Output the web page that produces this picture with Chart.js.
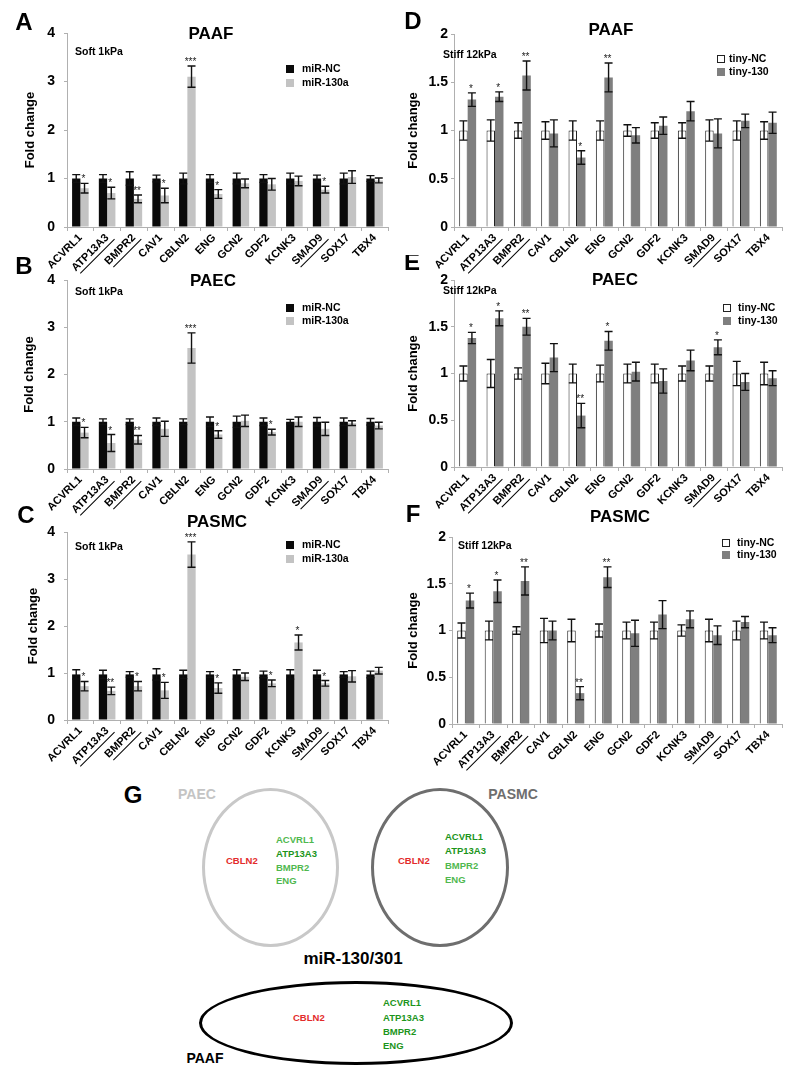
<!DOCTYPE html>
<html>
<head>
<meta charset="utf-8">
<script src="https://cdn.jsdelivr.net/npm/chart.js@4.4.0/dist/chart.umd.min.js"></script>
<style>
  body { margin: 0; background: #fff; }
  #fig { position: relative; width: 796px; height: 1079px; overflow: hidden; font-family: Arial, "Liberation Sans", sans-serif; }
  #fig canvas { position: absolute; }
  .t { position: absolute; font-weight: bold; white-space: nowrap; line-height: 1; }
  .c { transform: translate(-50%, -50%); }
  .l { transform: translateY(-50%); }
  .ring { position: absolute; border-radius: 50%; box-sizing: border-box; }
</style>
</head>
<body>
<div id="fig">
  <!-- panel G -->
  <div class="t c" style="left:133px;top:795px;font-size:24px;">G</div>
  <div class="t c" style="left:197px;top:794px;font-size:14px;color:#c4c4c4;">PAEC</div>
  <div class="t c" style="left:513px;top:794px;font-size:14px;color:#6e6e6e;">PASMC</div>
  <div class="ring" style="left:202px;top:788px;width:137px;height:159px;border:3px solid #c8c8c8;"></div>
  <div class="ring" style="left:371px;top:788px;width:138px;height:159px;border:3px solid #6e6e6e;"></div>
  <div class="t c" style="left:353px;top:958px;font-size:17px;">miR-130/301</div>
  <div class="ring" style="left:199px;top:981px;width:314px;height:84px;border:3px solid #000;"></div>
  <div class="t c" style="left:205px;top:1058px;font-size:14px;">PAAF</div>

  <div class="t l" style="left:226px;top:861px;font-size:9.5px;color:#e32b2b;">CBLN2</div>
  <div class="t l" style="left:276px;top:840px;font-size:9.5px;color:#4fb84f;">ACVRL1</div>
  <div class="t l" style="left:276px;top:854px;font-size:9.5px;color:#1c951c;">ATP13A3</div>
  <div class="t l" style="left:276px;top:868px;font-size:9.5px;color:#4fb84f;">BMPR2</div>
  <div class="t l" style="left:276px;top:881px;font-size:9.5px;color:#4fb84f;">ENG</div>

  <div class="t l" style="left:398px;top:861px;font-size:9.5px;color:#e32b2b;">CBLN2</div>
  <div class="t l" style="left:445px;top:837px;font-size:9.5px;color:#1c951c;">ACVRL1</div>
  <div class="t l" style="left:445px;top:851px;font-size:9.5px;color:#1c951c;">ATP13A3</div>
  <div class="t l" style="left:445px;top:866px;font-size:9.5px;color:#4fb84f;">BMPR2</div>
  <div class="t l" style="left:445px;top:880px;font-size:9.5px;color:#4fb84f;">ENG</div>

  <div class="t l" style="left:293px;top:1018px;font-size:9.5px;color:#e32b2b;">CBLN2</div>
  <div class="t l" style="left:383px;top:1003px;font-size:9.5px;color:#1c951c;">ACVRL1</div>
  <div class="t l" style="left:383px;top:1018px;font-size:9.5px;color:#1c951c;">ATP13A3</div>
  <div class="t l" style="left:383px;top:1032px;font-size:9.5px;color:#1c951c;">BMPR2</div>
  <div class="t l" style="left:383px;top:1046px;font-size:9.5px;color:#1c951c;">ENG</div>
</div>
<script>
const FONT = 'Arial, "Liberation Sans", sans-serif';

const genes = ['ACVRL1', 'ATP13A3', 'BMPR2', 'CAV1', 'CBLN2', 'ENG', 'GCN2', 'GDF2', 'KCNK3', 'SMAD9', 'SOX17', 'TBX4'];
const underlinedGenes = ['ATP13A3', 'BMPR2', 'SMAD9'];
const softTicks = [0, 1, 2, 3, 4];
const stiffTicks = [0, 0.5, 1, 1.5, 2];

// A - PAAF soft
const paafSoftNC = [1, 1, 1, 1, 1, 1, 1, 1, 1, 1, 1, 1];
const paafSoftNCErr = [0.08, 0.08, 0.14, 0.07, 0.11, 0.08, 0.11, 0.08, 0.11, 0.07, 0.11, 0.06];
const paafSoftMiR = [0.8, 0.7, 0.58, 0.65, 3.1, 0.68, 0.9, 0.88, 0.95, 0.77, 1.03, 0.96];
const paafSoftMiRErr = [0.1, 0.12, 0.08, 0.15, 0.22, 0.09, 0.09, 0.12, 0.1, 0.07, 0.13, 0.05];
const paafSoftSig = ['*', '*', '**', '*', '***', '*', '', '', '', '*', '', ''];

// B - PAEC soft
const paecSoftNC = [1, 1, 1, 1, 1, 1, 1, 1, 1, 1, 1, 1];
const paecSoftNCErr = [0.08, 0.06, 0.06, 0.08, 0.06, 0.1, 0.12, 0.08, 0.05, 0.09, 0.08, 0.07];
const paecSoftMiR = [0.77, 0.55, 0.62, 0.85, 2.56, 0.73, 1.02, 0.78, 1.0, 0.85, 0.97, 0.92];
const paecSoftMiRErr = [0.11, 0.18, 0.09, 0.16, 0.32, 0.08, 0.12, 0.06, 0.1, 0.14, 0.05, 0.07];
const paecSoftSig = ['*', '*', '**', '', '***', '*', '', '*', '', '', '', ''];

// C - PASMC soft
const pasmcSoftNC = [0.97, 0.97, 0.97, 0.97, 0.97, 0.97, 0.97, 0.97, 0.97, 0.97, 0.97, 0.97];
const pasmcSoftNCErr = [0.1, 0.09, 0.06, 0.12, 0.09, 0.06, 0.1, 0.07, 0.1, 0.09, 0.06, 0.07];
const pasmcSoftMiR = [0.72, 0.62, 0.72, 0.63, 3.52, 0.68, 0.92, 0.78, 1.65, 0.78, 0.93, 1.05];
const pasmcSoftMiRErr = [0.1, 0.08, 0.1, 0.17, 0.27, 0.11, 0.08, 0.07, 0.16, 0.06, 0.12, 0.07];
const pasmcSoftSig = ['*', '**', '*', '*', '***', '*', '', '*', '*', '*', '', ''];

// D - PAAF stiff
const paafStiffNC = [1, 1, 1, 1, 1, 1, 1, 1, 1, 1, 1, 1];
const paafStiffNCErr = [0.1, 0.11, 0.08, 0.09, 0.1, 0.1, 0.06, 0.08, 0.08, 0.11, 0.1, 0.09];
const paafStiffTiny = [1.32, 1.35, 1.57, 0.97, 0.72, 1.55, 0.95, 1.05, 1.2, 0.97, 1.1, 1.08];
const paafStiffTinyErr = [0.07, 0.05, 0.15, 0.14, 0.07, 0.15, 0.08, 0.09, 0.1, 0.15, 0.07, 0.11];
const paafStiffSig = ['*', '*', '**', '', '*', '**', '', '', '', '', '', ''];

// E - PAEC stiff
const paecStiffNC = [1, 1, 1, 1, 1, 1, 1, 1, 1, 1, 1, 1];
const paecStiffNCErr = [0.08, 0.15, 0.06, 0.11, 0.1, 0.09, 0.1, 0.1, 0.08, 0.08, 0.13, 0.12];
const paecStiffTiny = [1.38, 1.59, 1.5, 1.17, 0.55, 1.35, 1.02, 0.92, 1.14, 1.28, 0.91, 0.95];
const paecStiffTinyErr = [0.06, 0.08, 0.09, 0.15, 0.13, 0.1, 0.1, 0.13, 0.11, 0.08, 0.09, 0.08];
const paecStiffSig = ['*', '*', '**', '', '**', '*', '', '', '', '*', '', ''];

// F - PASMC stiff
const pasmcStiffNC = [1, 1, 1, 1, 1, 1, 1, 1, 1, 1, 1, 1];
const pasmcStiffNCErr = [0.08, 0.1, 0.04, 0.13, 0.12, 0.07, 0.09, 0.09, 0.06, 0.12, 0.1, 0.09];
const pasmcStiffTiny = [1.32, 1.42, 1.53, 1.0, 0.33, 1.57, 0.97, 1.17, 1.12, 0.95, 1.09, 0.95];
const pasmcStiffTinyErr = [0.08, 0.12, 0.15, 0.1, 0.07, 0.11, 0.14, 0.15, 0.09, 0.1, 0.06, 0.08];
const pasmcStiffSig = ['*', '*', '**', '', '**', '**', '', '', '', '', '', ''];

const softNames = ['miR-NC', 'miR-130a'];
const stiffNames = ['tiny-NC', 'tiny-130'];

function makePanel(p) {
  const canvas = document.createElement('canvas');
  canvas.width = p.w;
  canvas.height = p.h;
  canvas.style.left = p.ox + 'px';
  canvas.style.top = p.oy + 'px';
  document.getElementById('fig').appendChild(canvas);

  const stiff = p.kind === 'stiff';
  const ticks = stiff ? stiffTicks : softTicks;

  // error bars, stars, titles, legend and gene labels
  const decor = {
    id: 'decor' + p.letter,
    afterDatasetsDraw(chart) {
      const ctx = chart.ctx;
      const y = chart.scales.y;
      ctx.save();
      ctx.strokeStyle = '#111';
      ctx.lineWidth = 1.4;
      chart.data.datasets.forEach((ds, di) => {
        chart.getDatasetMeta(di).data.forEach((bar, i) => {
          const v = ds.data[i], e = ds.errors[i];
          const yt = y.getPixelForValue(v + e), yb = y.getPixelForValue(v - e);
          ctx.beginPath();
          ctx.moveTo(bar.x, yt); ctx.lineTo(bar.x, yb);
          ctx.moveTo(bar.x - 4, yt); ctx.lineTo(bar.x + 4, yt);
          ctx.moveTo(bar.x - 4, yb); ctx.lineTo(bar.x + 4, yb);
          ctx.stroke();
          if (ds.marks && ds.marks[i]) {
            ctx.fillStyle = '#222';
            ctx.font = '10px ' + FONT;
            ctx.textAlign = 'center';
            ctx.textBaseline = 'alphabetic';
            ctx.fillText(ds.marks[i], bar.x - 1, yt - 1);
          }
        });
      });
      ctx.restore();
    },
    afterDraw(chart) {
      const ctx = chart.ctx;
      const a = chart.chartArea;
      const ox = p.ox, oy = p.oy;
      ctx.save();
      ctx.fillStyle = '#000';
      ctx.textBaseline = 'middle';
      ctx.textAlign = 'center';
      ctx.font = 'bold 24px ' + FONT;
      ctx.fillText(p.letter, p.letterPos[0] - ox, p.letterPos[1] - oy);
      ctx.font = 'bold 17px ' + FONT;
      ctx.fillText(p.title, p.titlePos[0] - ox, p.titlePos[1] - oy);
      ctx.textAlign = 'left';
      ctx.font = 'bold 10.5px ' + FONT;
      ctx.fillText(stiff ? 'Stiff 12kPa' : 'Soft 1kPa', p.condPos[0] - ox, p.condPos[1] - oy);

      // legend
      const names = stiff ? stiffNames : softNames;
      chart.data.datasets.forEach((ds, di) => {
        const ry = p.legendRows[di] - oy;
        const sx = p.legendX[0] - ox;
        ctx.fillStyle = ds.backgroundColor;
        ctx.fillRect(sx, ry - 4, 8, 8);
        if (ds.borderWidth) {
          ctx.strokeStyle = '#222';
          ctx.lineWidth = 1;
          ctx.strokeRect(sx + 0.5, ry - 3.5, 7, 7);
        }
        ctx.fillStyle = '#000';
        ctx.font = 'bold 10.5px ' + FONT;
        ctx.fillText(names[di], p.legendX[1] - ox, ry);
      });

      // y title
      ctx.save();
      ctx.translate(p.yTitleX - ox, (a.top + a.bottom) / 2);
      ctx.rotate(-Math.PI / 2);
      ctx.textAlign = 'center';
      ctx.font = 'bold 13px ' + FONT;
      ctx.fillText('Fold change', 0, 0);
      ctx.restore();

      // gene labels, rotated 45 degrees
      ctx.font = 'bold 11px ' + FONT;
      ctx.strokeStyle = '#000';
      ctx.lineWidth = 1;
      genes.forEach((g, i) => {
        const x = chart.scales.x.getPixelForValue(i);
        ctx.save();
        ctx.translate(x, a.bottom + 9);
        ctx.rotate(-Math.PI / 4);
        ctx.textAlign = 'right';
        ctx.fillText(g, 0, 0);
        if (underlinedGenes.includes(g)) {
          const w = ctx.measureText(g).width;
          ctx.beginPath();
          ctx.moveTo(-w + 2, 7.5);
          ctx.lineTo(3, 7.5);
          ctx.stroke();
        }
        ctx.restore();
      });
      ctx.restore();
    }
  };

  new Chart(canvas, {
    type: 'bar',
    data: {
      labels: genes,
      datasets: [
        {
          label: (stiff ? stiffNames : softNames)[0],
          data: p.ctrl,
          errors: p.ctrlErr,
          backgroundColor: stiff ? '#ffffff' : '#0a0a0a',
          borderColor: '#222',
          borderWidth: stiff ? 1 : 0,
          categoryPercentage: 0.62,
          barPercentage: 1
        },
        {
          label: (stiff ? stiffNames : softNames)[1],
          data: p.treat,
          errors: p.treatErr,
          marks: p.sig,
          backgroundColor: stiff ? '#7f7f7f' : '#c3c3c3',
          borderWidth: 0,
          categoryPercentage: 0.62,
          barPercentage: 1
        }
      ]
    },
    options: {
      responsive: false,
      animation: false,
      layout: { padding: { left: 0, top: p.area[1] - p.oy, right: p.ox + p.w - p.area[2], bottom: 0 } },
      plugins: { legend: { display: false }, tooltip: { enabled: false } },
      scales: {
        x: {
          afterFit: s => { s.height = p.oy + p.h - p.area[3]; },
          ticks: { display: false },
          grid: { drawOnChartArea: false, tickLength: 4, color: '#b0b0b0' },
          border: { color: '#b0b0b0' }
        },
        y: {
          min: 0,
          max: ticks[ticks.length - 1],
          afterFit: s => { s.width = p.area[0] - p.ox; },
          afterBuildTicks: s => { s.ticks = ticks.map(v => ({ value: v })); },
          ticks: {
            color: '#000',
            font: { family: FONT, size: 14, weight: 'bold' },
            padding: p.tickPad,
            callback: v => String(v)
          },
          grid: { drawOnChartArea: false, tickLength: 3, color: '#b0b0b0' },
          border: { color: '#b0b0b0' }
        }
      }
    },
    plugins: [decor]
  });
}

makePanel({ letter: 'A', title: 'PAAF', kind: 'soft', ox: 0, oy: 0, w: 395, h: 285, area: [67, 33, 388, 227],
  ctrl: paafSoftNC, ctrlErr: paafSoftNCErr, treat: paafSoftMiR, treatErr: paafSoftMiRErr, sig: paafSoftSig,
  letterPos: [24, 23], titlePos: [211, 34], condPos: [75, 52], legendX: [286, 302], legendRows: [69, 83], yTitleX: 30, tickPad: 9 });
makePanel({ letter: 'B', title: 'PAEC', kind: 'soft', ox: 0, oy: 255, w: 395, h: 280, area: [67, 280, 388, 469],
  ctrl: paecSoftNC, ctrlErr: paecSoftNCErr, treat: paecSoftMiR, treatErr: paecSoftMiRErr, sig: paecSoftSig,
  letterPos: [24, 267], titlePos: [213, 281], condPos: [75, 292], legendX: [286, 302], legendRows: [308, 321], yTitleX: 29, tickPad: 9 });
makePanel({ letter: 'C', title: 'PASMC', kind: 'soft', ox: 0, oy: 505, w: 395, h: 280, area: [67, 532, 388, 720],
  ctrl: pasmcSoftNC, ctrlErr: pasmcSoftNCErr, treat: pasmcSoftMiR, treatErr: pasmcSoftMiRErr, sig: pasmcSoftSig,
  letterPos: [26, 516], titlePos: [217, 522], condPos: [75, 547], legendX: [286, 302], legendRows: [545, 559], yTitleX: 33, tickPad: 9 });
makePanel({ letter: 'D', title: 'PAAF', kind: 'stiff', ox: 395, oy: 0, w: 401, h: 285, area: [454, 34, 782, 227],
  ctrl: paafStiffNC, ctrlErr: paafStiffNCErr, treat: paafStiffTiny, treatErr: paafStiffTinyErr, sig: paafStiffSig,
  letterPos: [413, 22], titlePos: [611, 30], condPos: [443, 55], legendX: [717, 729], legendRows: [59, 72], yTitleX: 413, tickPad: 3 });
makePanel({ letter: 'E', title: 'PAEC', kind: 'stiff', ox: 395, oy: 255, w: 401, h: 280, area: [454, 280, 782, 467],
  ctrl: paecStiffNC, ctrlErr: paecStiffNCErr, treat: paecStiffTiny, treatErr: paecStiffTinyErr, sig: paecStiffSig,
  letterPos: [412, 263], titlePos: [615, 280], condPos: [443, 291], legendX: [723, 738], legendRows: [308, 321], yTitleX: 413, tickPad: 3 });
makePanel({ letter: 'F', title: 'PASMC', kind: 'stiff', ox: 395, oy: 505, w: 401, h: 280, area: [452, 537, 782, 724],
  ctrl: pasmcStiffNC, ctrlErr: pasmcStiffNCErr, treat: pasmcStiffTiny, treatErr: pasmcStiffTinyErr, sig: pasmcStiffSig,
  letterPos: [413, 515], titlePos: [620, 517], condPos: [458, 546], legendX: [722, 737], legendRows: [543, 555], yTitleX: 413, tickPad: 3 });
</script>
</body>
</html>
